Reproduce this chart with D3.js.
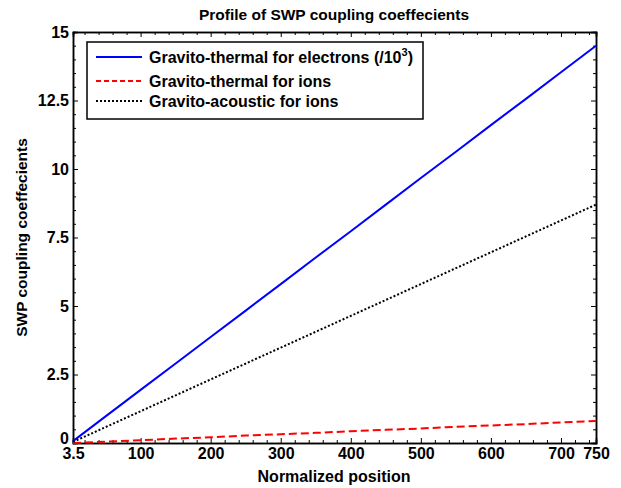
<!DOCTYPE html>
<html>
<head>
<meta charset="utf-8">
<script src="https://cdn.jsdelivr.net/npm/d3@7"></script>
<style>
  body { margin: 0; background: #fff; }
  svg text { font-family: "Liberation Sans", Arial, sans-serif; font-weight: bold; fill: #000; }
</style>
</head>
<body>
<div id="chart"></div>
<script>
// normalized position (x) and coupling coefficients
const positions = [3.5, 50, 100, 150, 200, 250, 300, 350, 400, 450, 500, 550, 600, 650, 700, 750]
const electronsThermal = [0.07, 0.97, 1.94, 2.9, 3.87, 4.83, 5.8, 6.77, 7.73, 8.7, 9.67, 10.63, 11.6, 12.56, 13.53, 14.5]
const ionsThermal = [0.0, 0.05, 0.1, 0.16, 0.21, 0.27, 0.32, 0.37, 0.43, 0.48, 0.53, 0.59, 0.64, 0.69, 0.75, 0.8]
const ionsAcoustic = [0.04, 0.58, 1.16, 1.74, 2.32, 2.9, 3.48, 4.06, 4.64, 5.22, 5.8, 6.38, 6.96, 7.54, 8.12, 8.7]

const xTicks = [3.5, 100, 200, 300, 400, 500, 600, 700, 750]
const yTicks = [0, 2.5, 5, 7.5, 10, 12.5, 15]
const yTickLabels = ['0', '2.5', '5', '7.5', '10', '12.5', '15']

const seriesNames = ['Gravito-thermal for electrons (/10', 'Gravito-thermal for ions', 'Gravito-acoustic for ions']

const width = 621
const height = 488
const margin = {top: 32, right: 25, bottom: 45, left: 73}

const svg = d3.select('#chart')
    .append('svg')
    .attr('width', width)
    .attr('height', height)

const x = d3.scaleLinear()
    .domain([3.5, 750])
    .range([margin.left, width - margin.right])

const y = d3.scaleLinear()
    .domain([0, 15])
    .range([height - margin.bottom, margin.top])

const xMinor = d3.range(20, 750, 20).filter(v => !xTicks.includes(v))
const yMinor = d3.range(0, 15, 0.5).filter(v => !yTicks.includes(v))

// axes, ticks pointing inward on all four sides
const bottom = svg.append('g')
    .attr('transform', `translate(0,${y(0)})`)
    .call(d3.axisBottom(x).tickValues(xTicks).tickSize(-5).tickPadding(5)
        .tickFormat(d => d === 3.5 ? '3.5' : d))
bottom.selectAll('text').style('font-size', '16px')

svg.append('g')
    .attr('transform', `translate(0,${y(0)})`)
    .call(d3.axisBottom(x).tickValues(xMinor).tickSize(-3).tickFormat(''))

svg.append('g')
    .attr('transform', `translate(0,${y(15)})`)
    .call(d3.axisTop(x).tickValues(xTicks).tickSize(-5).tickFormat(''))
svg.append('g')
    .attr('transform', `translate(0,${y(15)})`)
    .call(d3.axisTop(x).tickValues(xMinor).tickSize(-3).tickFormat(''))

const left = svg.append('g')
    .attr('transform', `translate(${x(3.5)},0)`)
    .call(d3.axisLeft(y).tickValues(yTicks).tickSize(-5).tickPadding(4)
        .tickFormat((d, i) => yTickLabels[i]))
left.selectAll('text').style('font-size', '16px')
left.selectAll('text').filter(d => d === 0).attr('dy', '0.05em')

svg.append('g')
    .attr('transform', `translate(${x(3.5)},0)`)
    .call(d3.axisLeft(y).tickValues(yMinor).tickSize(-3).tickFormat(''))

svg.append('g')
    .attr('transform', `translate(${x(750)},0)`)
    .call(d3.axisRight(y).tickValues(yTicks).tickSize(-5).tickFormat(''))
svg.append('g')
    .attr('transform', `translate(${x(750)},0)`)
    .call(d3.axisRight(y).tickValues(yMinor).tickSize(-3).tickFormat(''))

svg.selectAll('.domain').attr('stroke', '#000').attr('stroke-width', 1.5)
svg.selectAll('.tick line').attr('stroke', '#000')

// lines
const line = vals => d3.line()
    .x((d, i) => x(positions[i]))
    .y(d => y(d))(vals)

svg.append('path')
    .attr('d', line(electronsThermal))
    .attr('fill', 'none')
    .attr('stroke', '#0000ff')
    .attr('stroke-width', 2)

svg.append('path')
    .attr('d', line(ionsThermal))
    .attr('fill', 'none')
    .attr('stroke', '#ff0000')
    .attr('stroke-width', 2)
    .attr('stroke-dasharray', '8,4')

svg.append('path')
    .attr('d', line(ionsAcoustic))
    .attr('fill', 'none')
    .attr('stroke', '#000')
    .attr('stroke-width', 2)
    .attr('stroke-dasharray', '2,2')

// title and axis labels
svg.append('text')
    .attr('x', 334)
    .attr('y', 20)
    .attr('text-anchor', 'middle')
    .style('font-size', '15.5px')
    .text('Profile of SWP coupling coeffecients')

svg.append('text')
    .attr('x', 334)
    .attr('y', 482)
    .attr('text-anchor', 'middle')
    .style('font-size', '16px')
    .text('Normalized position')

svg.append('text')
    .attr('transform', `translate(27,${(y(0) + y(15)) / 2}) rotate(-90)`)
    .attr('text-anchor', 'middle')
    .style('font-size', '15.5px')
    .text('SWP coupling coeffecients')

// legend
const legend = svg.append('g')
legend.append('rect')
    .attr('x', 87)
    .attr('y', 42)
    .attr('width', 336)
    .attr('height', 77)
    .attr('fill', '#fff')
    .attr('stroke', '#000')
    .attr('stroke-width', 1.5)

const styles = [
    {color: '#0000ff', dash: null},
    {color: '#ff0000', dash: '5,3'},
    {color: '#000', dash: '2,2'}
]
const rowY = [57, 81, 101]

seriesNames.forEach((name, i) => {
    legend.append('line')
        .attr('x1', 96).attr('x2', 142)
        .attr('y1', rowY[i]).attr('y2', rowY[i])
        .attr('stroke', styles[i].color)
        .attr('stroke-width', 2)
        .attr('stroke-dasharray', styles[i].dash)
    const t = legend.append('text')
        .attr('x', 149)
        .attr('y', rowY[i] + 6)
        .style('font-size', '16px')
        .text(name)
    if (i === 0) {
        t.append('tspan').attr('dy', -7).style('font-size', '11px').text('3')
        t.append('tspan').attr('dy', 7).text(')')
    }
})
</script>
</body>
</html>
